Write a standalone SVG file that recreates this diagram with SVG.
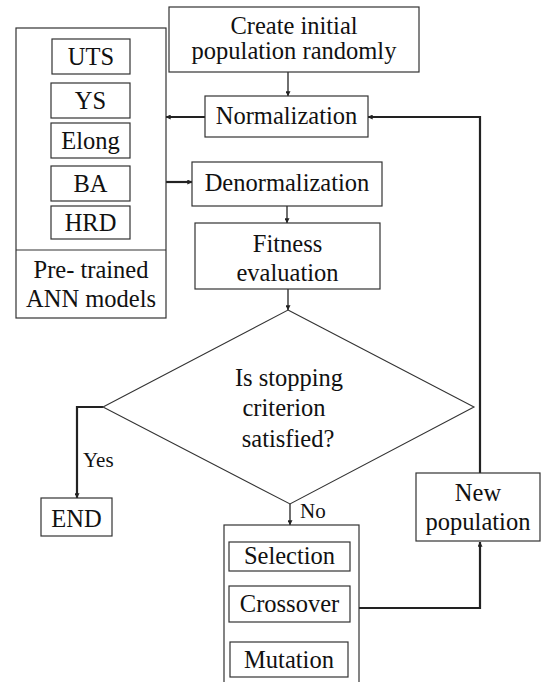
<svg xmlns="http://www.w3.org/2000/svg" width="541" height="682" viewBox="0 0 541 682">
  <defs>
    <style>
      .box { fill: #fff; stroke: #333; stroke-width: 1.2; }
      .lbl { font-size: 24.5px; fill: #111; text-anchor: middle; }
      .sm { font-size: 21px; fill: #111; }
      .ln { fill: none; stroke: #222; stroke-width: 1.3; }
      .thick { fill: none; stroke: #222; stroke-width: 2.2; }
    </style>
    <marker id="ah" viewBox="0 0 8 8" refX="7.5" refY="4" markerWidth="5" markerHeight="5" orient="auto" markerUnits="userSpaceOnUse">
      <path d="M0,0 L8,4 L0,8 z" fill="#222"/>
    </marker>
  </defs>
  <rect width="541" height="682" fill="#fff"/>

  <g font-family="Liberation Serif, Tinos, Times New Roman, serif">
  <!-- connectors -->
  <g id="connectors">
    <line class="ln" x1="288" y1="72" x2="288" y2="96" marker-end="url(#ah)"/>
    <line class="thick" x1="205" y1="117" x2="166" y2="117" marker-end="url(#ah)"/>
    <line class="thick" x1="166" y1="182" x2="192" y2="182" marker-end="url(#ah)"/>
    <line class="ln" x1="287" y1="206" x2="287" y2="223" marker-end="url(#ah)"/>
    <line class="ln" x1="288" y1="289" x2="288" y2="310" marker-end="url(#ah)"/>
    <polyline class="thick" points="103,407 77,407 77,498" marker-end="url(#ah)"/>
    <line class="ln" x1="290" y1="504" x2="290" y2="525" marker-end="url(#ah)"/>
    <line class="ln" x1="288" y1="571" x2="288" y2="586" marker-end="url(#ah)"/>
    <line class="ln" x1="287" y1="622" x2="287" y2="642" marker-end="url(#ah)"/>
    <polyline class="thick" points="359,608 480,608 480,542" marker-end="url(#ah)"/>
    <polyline class="thick" points="480,473 480,117 368,117" marker-end="url(#ah)"/>
    <text class="sm" x="83" y="467">Yes</text>
    <text class="sm" x="300" y="518">No</text>
  </g>

  <g id="create">
    <rect class="box" x="169" y="7" width="250" height="65"/>
    <text class="lbl" x="294" y="34">Create initial</text>
    <text class="lbl" x="294" y="59">population randomly</text>
  </g>

  <g id="normalization">
    <rect class="box" x="205" y="96" width="163" height="41"/>
    <text class="lbl" x="286.5" y="124">Normalization</text>
  </g>

  <g id="ann">
    <rect class="box" x="16" y="28" width="150" height="290"/>
    <line x1="16" y1="250" x2="166" y2="250" stroke="#333" stroke-width="1.2"/>
    <text class="lbl" x="91" y="278">Pre- trained</text>
    <text class="lbl" x="91" y="307">ANN models</text>
    <g id="uts">
      <rect class="box" x="52" y="39" width="78" height="35"/>
      <text class="lbl" x="91" y="65">UTS</text>
    </g>
    <g id="ys">
      <rect class="box" x="51" y="83" width="79" height="35"/>
      <text class="lbl" x="90.5" y="109">YS</text>
    </g>
    <g id="elong">
      <rect class="box" x="51" y="123" width="79" height="35"/>
      <text class="lbl" x="90.5" y="149">Elong</text>
    </g>
    <g id="ba">
      <rect class="box" x="51" y="166" width="79" height="35"/>
      <text class="lbl" x="90.5" y="192">BA</text>
    </g>
    <g id="hrd">
      <rect class="box" x="51" y="206" width="79" height="33"/>
      <text class="lbl" x="90.5" y="231">HRD</text>
    </g>
  </g>

  <g id="denormalization">
    <rect class="box" x="192" y="162" width="190" height="44"/>
    <text class="lbl" x="287" y="191">Denormalization</text>
  </g>

  <g id="fitness">
    <rect class="box" x="195" y="223" width="185" height="66"/>
    <text class="lbl" x="287.5" y="252">Fitness</text>
    <text class="lbl" x="287.5" y="281">evaluation</text>
  </g>

  <g id="decision">
    <polygon points="288,310 474,407 290,504 103,407" fill="#fff" stroke="#333" stroke-width="1.1"/>
    <text class="lbl" x="289" y="386">Is stopping</text>
    <text class="lbl" x="284" y="416">criterion</text>
    <text class="lbl" x="288" y="447">satisfied?</text>
  </g>

  <g id="end">
    <rect class="box" x="41" y="498" width="71" height="38"/>
    <text class="lbl" x="76.5" y="527">END</text>
  </g>

  <g id="operators">
    <rect class="box" x="224" y="525" width="135" height="162"/>
    <g id="selection">
      <rect class="box" x="229" y="542" width="121" height="29"/>
      <text class="lbl" x="289.5" y="564">Selection</text>
    </g>
    <g id="crossover">
      <rect class="box" x="229" y="586" width="121" height="36"/>
      <text class="lbl" x="289.5" y="612">Crossover</text>
    </g>
    <g id="mutation">
      <rect class="box" x="230" y="642" width="118" height="35"/>
      <text class="lbl" x="289" y="668">Mutation</text>
    </g>
  </g>

  <g id="newpop">
    <rect class="box" x="416" y="473" width="124" height="68"/>
    <text class="lbl" x="478" y="501">New</text>
    <text class="lbl" x="478" y="530">population</text>
  </g>
  </g>
</svg>
